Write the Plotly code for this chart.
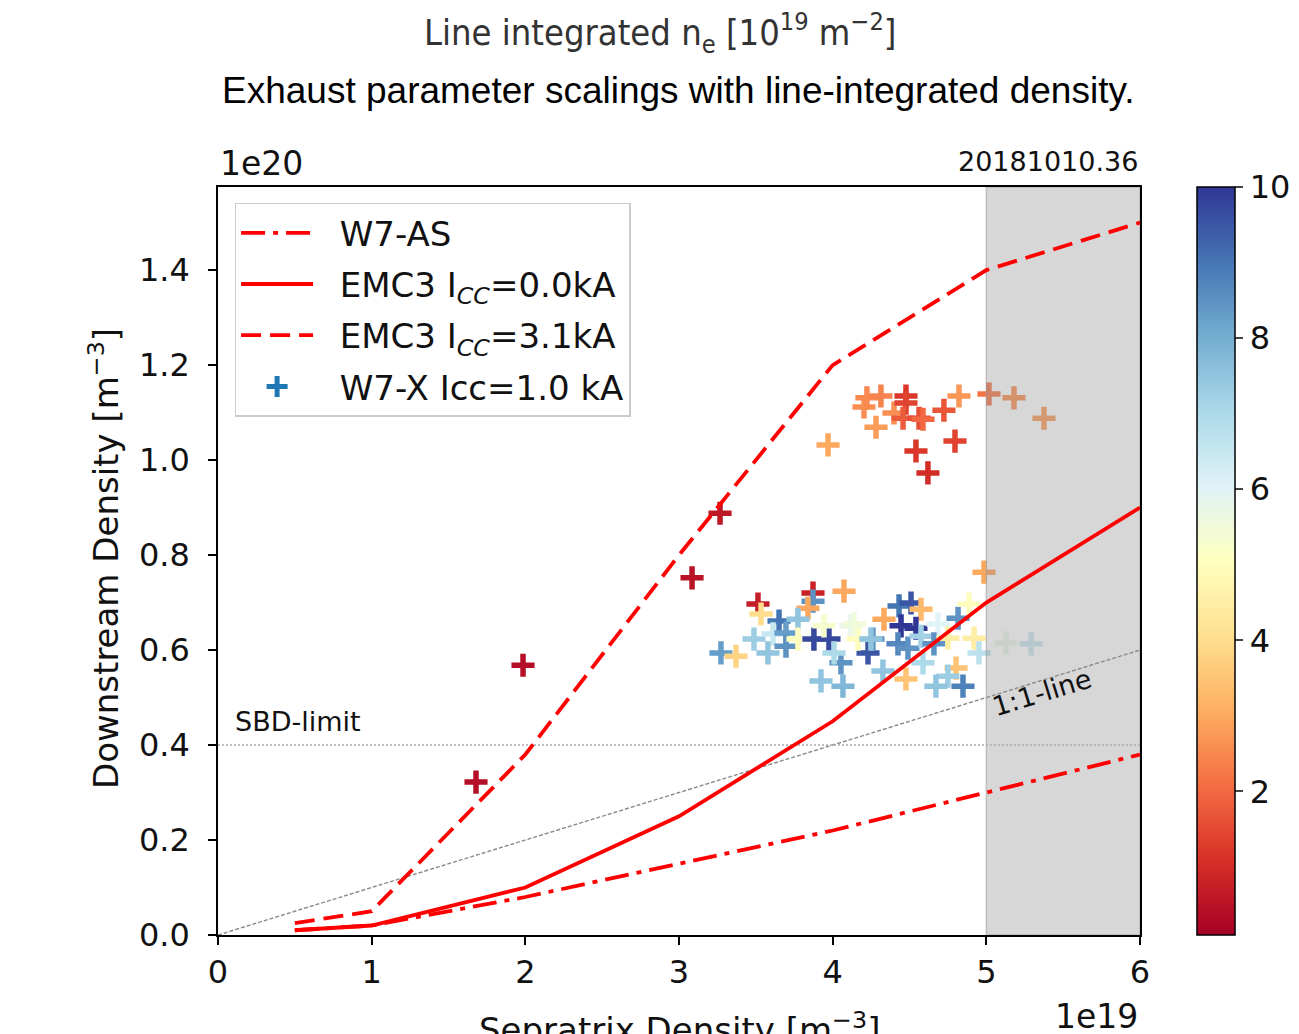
import plotly.graph_objects as go

# ---------------- data ----------------
model_x = [0.5, 1, 2, 3, 4, 5, 6]                      # separatrix density [1e19 m^-3]
w7as_y = [0.01, 0.02, 0.08, 0.15, 0.22, 0.30, 0.38]    # downstream density [1e20 m^-3]
emc3_00_y = [0.01, 0.02, 0.10, 0.25, 0.45, 0.70, 0.90]
emc3_31_y = [0.025, 0.05, 0.38, 0.80, 1.20, 1.40, 1.50]

sbd_limit = 0.4
one_to_one_x = [0, 6]
one_to_one_y = [0, 0.6]
span_x0, span_x1 = 5, 6
y_top = 1.575

sep_density = [
    1.679, 1.985, 3.085, 3.267,
    3.970, 4.204, 4.223, 4.314, 4.282, 4.399, 4.477, 4.477, 4.458, 4.562,
    4.588, 4.724, 4.822, 4.796, 4.542, 4.620, 5.017, 5.180, 5.375,
    3.514, 3.534, 3.872, 3.872, 3.839, 4.074, 3.651, 3.774, 3.488, 3.612,
    3.696, 3.273, 3.371, 3.579, 3.696, 3.774, 3.878, 3.976, 3.943, 4.119,
    4.054, 4.009, 3.924, 4.067, 4.230, 4.262, 4.165, 4.432, 4.510, 4.575,
    4.334, 4.445, 4.542, 4.685, 4.816, 4.887, 4.249, 4.425, 4.490, 4.575,
    4.659, 4.750, 4.588, 4.327, 4.477, 4.803, 4.750, 4.672, 4.848, 4.920,
    4.952, 5.128, 5.291, 4.985, 4.139,
]
down_density = [
    0.322, 0.568, 0.752, 0.888,
    1.032, 1.112, 1.131, 1.135, 1.069, 1.099, 1.135, 1.120, 1.088, 1.088,
    1.086, 1.105, 1.135, 1.040, 1.019, 0.973, 1.139, 1.131, 1.088,
    0.697, 0.676, 0.720, 0.703, 0.688, 0.724, 0.661, 0.665, 0.623, 0.634,
    0.636, 0.594, 0.587, 0.594, 0.608, 0.623, 0.623, 0.623, 0.651, 0.651,
    0.573, 0.594, 0.535, 0.524, 0.594, 0.623, 0.623, 0.693, 0.699, 0.686,
    0.665, 0.651, 0.646, 0.655, 0.667, 0.697, 0.623, 0.613, 0.604, 0.629,
    0.613, 0.625, 0.573, 0.556, 0.539, 0.562, 0.545, 0.524, 0.524, 0.625,
    0.594, 0.615, 0.613, 0.764, 0.655,
]
line_int_ne = [
    0.4, 0.4, 0.5, 0.6,
    3.0, 2.6, 2.5, 2.4, 2.8, 2.6, 1.2, 1.4, 1.8, 1.6,
    2.0, 1.7, 2.7, 1.4, 1.2, 1.0, 2.2, 2.6, 2.8,
    0.7, 4.0, 0.8, 8.5, 3.0, 3.0, 9.0, 7.5, 7.3, 6.5,
    8.3, 8.3, 3.8, 7.5, 8.5, 5.0, 9.7, 9.7, 5.3, 5.8,
    8.5, 7.0, 7.5, 7.8, 9.5, 8.5, 5.0, 9.0, 9.5, 3.3,
    3.0, 10.0, 10.0, 6.0, 8.5, 5.0, 7.5, 8.7, 8.5, 7.2,
    8.5, 4.5, 7.0, 7.5, 3.5, 3.5, 7.3, 7.5, 8.8, 4.5,
    6.7, 5.8, 6.5, 3.0, 5.5,
]
cbar_ticks = [2, 4, 6, 8, 10]
y_ticks = [0.0, 0.2, 0.4, 0.6, 0.8, 1.0, 1.2, 1.4]
x_ticks = [0, 1, 2, 3, 4, 5, 6]

rdylbu = ['rgb(165,0,38)', 'rgb(215,48,39)', 'rgb(244,109,67)', 'rgb(253,174,97)',
          'rgb(254,224,144)', 'rgb(255,255,191)', 'rgb(224,243,248)', 'rgb(171,217,233)',
          'rgb(116,173,209)', 'rgb(69,117,180)', 'rgb(49,54,149)']
colorscale = [[i / (len(rdylbu) - 1), c] for i, c in enumerate(rdylbu)]

FONT = "DejaVu Sans"
RED = "#ff0000"
TXT = "#111111"
W7AS_DASH = "24px,8px,5px,8px"
EMC_DASH = "20px,9px"
PAD = "\u00a0\u00a0"

fig = go.Figure()

# scatter of measurements
fig.add_trace(go.Scatter(
    x=sep_density, y=down_density, mode="markers", showlegend=False,
    marker=dict(symbol="cross-thin", size=16.5,
                color=line_int_ne, coloraxis="coloraxis",
                line=dict(width=5.5, color=line_int_ne, coloraxis="coloraxis")),
))

# grey span (drawn above points, below lines)
fig.add_trace(go.Scatter(
    x=[span_x0, span_x1, span_x1, span_x0, span_x0],
    y=[0, 0, y_top, y_top, 0], mode="lines", fill="toself",
    fillcolor="rgba(150,150,150,0.38)", line=dict(width=1.5, color="rgba(150,150,150,0.5)"),
    showlegend=False, hoverinfo="skip"))

# reference lines
fig.add_trace(go.Scatter(x=one_to_one_x, y=one_to_one_y, mode="lines", showlegend=False,
                         line=dict(color="#8a8a8a", width=1.4, dash="4px,2px")))
fig.add_trace(go.Scatter(x=[0, 6], y=[sbd_limit, sbd_limit], mode="lines", showlegend=False,
                         line=dict(color="#aaaaaa", width=1.5, dash="2px,2px")))

# model curves
fig.add_trace(go.Scatter(x=model_x, y=w7as_y, mode="lines", name=PAD + "W7-AS", legendgroup="a",
                         line=dict(color=RED, width=3.8, dash=W7AS_DASH)))
fig.add_trace(go.Scatter(x=model_x, y=emc3_00_y, mode="lines", legendgroup="b",
                         name=PAD + "EMC3 I<sub><i>CC</i></sub>=0.0kA",
                         line=dict(color=RED, width=3.8)))
fig.add_trace(go.Scatter(x=model_x, y=emc3_31_y, mode="lines", legendgroup="c",
                         name=PAD + "EMC3 I<sub><i>CC</i></sub>=3.1kA",
                         line=dict(color=RED, width=3.8, dash=EMC_DASH)))
fig.add_trace(go.Scatter(x=[None], y=[None], mode="markers", legendgroup="d",
                         name=PAD + "W7-X Icc=1.0 kA",
                         marker=dict(symbol="cross-thin", size=15,
                                     line=dict(width=5, color="#1f77b4"))))

axis_common = dict(showgrid=False, zeroline=False, showline=True, linecolor="black",
                   linewidth=1.5, mirror=True, ticks="outside", ticklen=8, tickwidth=1.5,
                   tickcolor="black", tickfont=dict(family=FONT, size=32, color=TXT))

fig.update_layout(
    width=1299, height=1034,
    margin=dict(l=210, r=167, t=179, b=107, autoexpand=False),
    paper_bgcolor="white", plot_bgcolor="white",
    xaxis=dict(range=[0, 6], tickvals=x_ticks, **axis_common),
    yaxis=dict(range=[0, y_top], tickvals=y_ticks, tickformat=".1f",
               ticklabelstandoff=12, **axis_common),
    coloraxis=dict(
        colorscale=colorscale, cmin=0.1, cmax=10,
        colorbar=dict(
            xref="container", x=1189 / 1299, xanchor="left", xpad=0,
            y=0.5, yanchor="middle", len=1, lenmode="fraction", ypad=0,
            thickness=38, outlinecolor="black", outlinewidth=1.5,
            tickvals=cbar_ticks, ticks="outside", ticklen=8, tickwidth=1.5,
            tickfont=dict(family=FONT, size=32, color=TXT),
        ),
    ),
    legend=dict(
        x=0.018, y=0.979, xanchor="left", yanchor="top", itemwidth=72,
        bgcolor="rgba(255,255,255,0.85)", bordercolor="#cccccc", borderwidth=1.5,
        font=dict(family=FONT, size=34, color=TXT), tracegroupgap=4,
    ),
    showlegend=True,
)

ann_font = dict(family=FONT, color=TXT)
annotations = [
    dict(text="Line integrated n<sub>e</sub> [10<sup>19</sup> m<sup>−2</sup>]",
         xref="paper", yref="paper", x=(659 - 217) / 922, y=(934 - 32) / 748,
         xanchor="center", yanchor="middle", showarrow=False,
         font=dict(family="DejaVu Sans Condensed, DejaVu Sans", size=36, color="#333")),
    dict(text="Exhaust parameter scalings with line-integrated density.",
         xref="paper", yref="paper", x=(677 - 217) / 922, y=(934 - 90) / 748,
         xanchor="center", yanchor="middle", showarrow=False,
         font=dict(family="Liberation Sans, Arial", size=37, color="black")),
    dict(text="1e20", xref="paper", yref="paper", x=0, y=(934 - 162) / 748,
         xanchor="left", yanchor="middle", showarrow=False, font=dict(size=33, **ann_font)),
    dict(text="20181010.36", xref="paper", yref="paper", x=1, y=(934 - 161) / 748,
         xanchor="right", yanchor="middle", showarrow=False, font=dict(size=27, **ann_font)),
    dict(text="1e19", xref="paper", yref="paper", x=1, y=(934 - 1015) / 748,
         xanchor="right", yanchor="middle", showarrow=False, font=dict(size=33, **ann_font)),
    dict(text="Sepratrix Density [m<sup>−3</sup>]", xref="paper", yref="paper",
         x=0.5, y=(934 - 1027) / 748, xanchor="center", yanchor="middle",
         showarrow=False, font=dict(size=34, **ann_font)),
    dict(text="Downstream Density [m<sup>−3</sup>]", xref="paper", yref="paper",
         x=(103 - 217) / 922, y=(934 - 558) / 748, xanchor="center", yanchor="middle",
         textangle=-90, showarrow=False, font=dict(size=34, **ann_font)),
    dict(text="SBD-limit", x=0.1, y=0.45, xanchor="left", yanchor="middle",
         showarrow=False, font=dict(size=27, **ann_font)),
    dict(text="1:1-line", x=5.36, y=0.51, xanchor="center", yanchor="middle",
         textangle=-17, showarrow=False, font=dict(size=27, **ann_font)),
]
fig.update_layout(annotations=annotations)

fig.write_html("out.html")
